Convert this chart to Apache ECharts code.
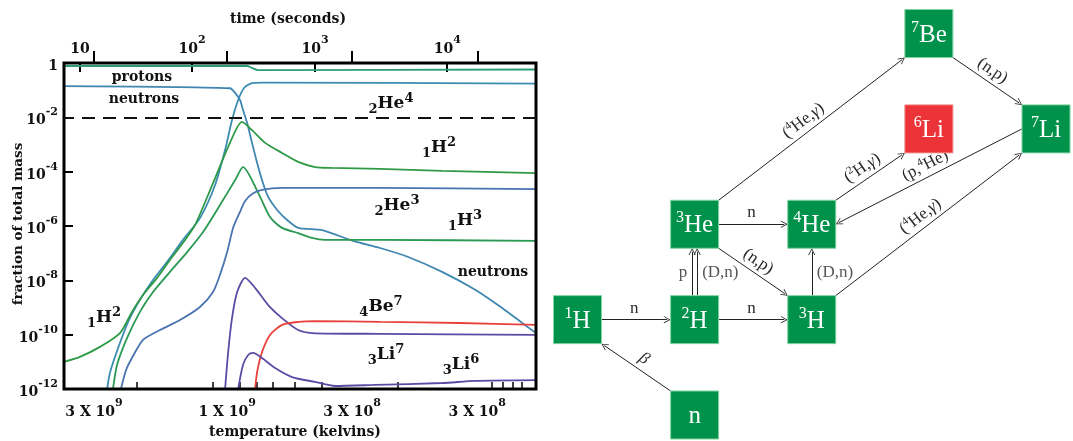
<!DOCTYPE html>
<html><head><meta charset="utf-8">
<script src="https://cdn.jsdelivr.net/npm/echarts@6/dist/echarts.min.js"></script>
<style>html,body{margin:0;padding:0;background:#fff}#c{width:1073px;height:441px}</style>
</head><body><div id="c"></div>
<script>
// ---------- Left panel data: x = log10(temperature / K), y = log10(fraction of total mass)
const protons  = [[9.61,-0.11],[8.896,-0.11],[8.877,-0.18],[8.853,-0.26],[7.77,-0.24]];
const neutrons = [[9.61,-0.85],[8.963,-0.93],[8.943,-1.10],[8.924,-1.36],[8.912,-1.73],[8.896,-2.21],[8.877,-2.94],[8.857,-3.68],[8.838,-4.31],[8.814,-4.93],[8.779,-5.41],[8.74,-5.78],[8.697,-6.07],[8.604,-6.15],[8.483,-6.55],[8.378,-6.81],[8.268,-7.14],[8.136,-7.69],[8.007,-8.35],[7.902,-9.02],[7.824,-9.57],[7.77,-9.94]];
const he4 = [[9.442,-12.0],[9.43,-11.37],[9.399,-10.49],[9.36,-9.53],[9.314,-8.72],[9.263,-7.99],[9.208,-7.32],[9.146,-6.51],[9.08,-5.71],[9.021,-4.49],[8.982,-3.2],[8.955,-2.1],[8.931,-1.36],[8.908,-0.92],[8.877,-0.74],[8.838,-0.72],[7.77,-0.76]];
const h2 = [[9.61,-11.0],[9.548,-10.82],[9.47,-10.45],[9.392,-9.94],[9.345,-9.16],[9.302,-8.54],[9.247,-7.91],[9.197,-7.25],[9.146,-6.62],[9.099,-5.96],[9.029,-4.42],[8.963,-2.94],[8.916,-2.17],[8.877,-2.47],[8.826,-2.94],[8.76,-3.31],[8.697,-3.64],[8.631,-3.83],[8.565,-3.86],[8.378,-3.90],[8.136,-3.97],[7.77,-4.05]];
const h3 = [[9.419,-12.0],[9.403,-11.11],[9.364,-10.12],[9.314,-9.16],[9.263,-8.43],[9.197,-7.69],[9.13,-6.96],[9.068,-6.22],[9.002,-5.23],[8.943,-4.31],[8.912,-3.83],[8.853,-4.78],[8.807,-5.67],[8.76,-6.07],[8.697,-6.26],[8.643,-6.44],[8.592,-6.51],[8.378,-6.51],[7.77,-6.55]];
const he3 = [[9.388,-12.0],[9.368,-11.3],[9.345,-10.86],[9.302,-10.19],[9.236,-9.83],[9.158,-9.46],[9.08,-8.98],[9.029,-8.43],[9.002,-7.8],[8.974,-6.96],[8.951,-6.07],[8.924,-5.48],[8.904,-5.08],[8.877,-4.82],[8.838,-4.67],[8.76,-4.6],[8.378,-4.6],[7.77,-4.64]];
const li7 = [[8.982,-12.0],[8.97,-10.64],[8.955,-9.39],[8.935,-8.43],[8.904,-7.91],[8.865,-8.28],[8.814,-8.91],[8.76,-9.39],[8.697,-9.83],[8.643,-9.94],[8.378,-9.97],[7.77,-10.01]];
const be7 = [[8.865,-12.0],[8.857,-11.37],[8.838,-10.64],[8.807,-10.01],[8.76,-9.64],[8.697,-9.53],[8.631,-9.5],[8.378,-9.53],[8.066,-9.57],[7.77,-9.64]];
const li6 = [[8.931,-12.0],[8.912,-11.11],[8.892,-10.75],[8.873,-10.67],[8.838,-10.86],[8.787,-11.23],[8.721,-11.56],[8.631,-11.74],[8.553,-11.89],[8.397,-11.85],[8.136,-11.78],[8.007,-11.7],[7.77,-11.67]];
const refLevel = -2;

// ticks
const tempTickVals = [9.493, 8.974, 8.487, 7.999];
const tempTickLabels = [['3 X 10','9'],['1 X 10','9'],['3 X 10','8'],['3 X 10','8']];
const tempMinorTicks = [9.325, 9.029, 8.924, 8.860, 8.795, 8.709, 8.604, 8.307, 7.941, 7.898, 7.859, 7.824];
const timeTickVals = [9.548, 9.111, 8.631, 8.116];
const timeTickLabels = [['10',''],['10','2'],['10','3'],['10','4']];
const fracTickVals = [0,-2,-4,-6,-8,-10,-12];

// ---------- Right panel data: reaction network
const nuclides  = ['n','1H','2H','3H','3He','4He','6Li','7Be','7Li'];
const massNum   = ['', '1','2','3','3','4','6','7','7'];
const element   = ['n','H','H','H','He','He','Li','Be','Li'];
const nuclideCol = [1,0,1,2,1,2,3,3,4];
const nuclideRow = [-1,0,0,0,1,1,2,3,2];
const reactions = [
  ['n','1H','β'],
  ['1H','2H','n'],
  ['2H','3H','n'],
  ['2H','3He','p'],
  ['2H','3He','(D,n)'],
  ['3He','4He','n'],
  ['3He','3H','(n,p)'],
  ['3H','4He','(D,n)'],
  ['3He','7Be','(^4He,γ)'],
  ['4He','6Li','(^2H,γ)'],
  ['7Li','4He','(p,^4He)'],
  ['3H','7Li','(^4He,γ)'],
  ['7Be','7Li','(n,p)']
];

// ---------- rendering
const chart = echarts.init(document.getElementById('c'), null, {renderer:'canvas'});
const SERIF_B = 'DejaVu Serif';
const TIMES = 'Liberation Serif';
function nearest(vals, v){let bi=0,bd=Infinity;vals.forEach((t,i)=>{const d=Math.abs(t-v);if(d<bd){bd=d;bi=i;}});return bi;}
const axRich = {
  b:{fontFamily:SERIF_B,fontWeight:'bold',fontSize:14,color:'#111',lineHeight:21,verticalAlign:'bottom'},
  s:{fontFamily:SERIF_B,fontWeight:'bold',fontSize:11,color:'#111',lineHeight:12,verticalAlign:'top'}
};
function supLabel(base, sup){return '{b|'+base+'}'+(sup?'{s|'+sup+'}':'');}

function curve(name, data, color){
  return {type:'line', name, xAxisIndex:0, yAxisIndex:0, data, symbol:'none', showSymbol:false,
    smooth:0.25, lineStyle:{color, width:1.8}, clip:true, z:3, silent:true};
}

function richify(str){
  let out='', buf='';
  const flush=()=>{if(buf){out+='{t|'+buf+'}';buf='';}};
  for(let k=0;k<str.length;k++){
    const ch=str[k];
    if(ch==='^'){flush();out+='{s|'+str[k+1]+'}';k++;}
    else if(ch==='γ'||ch==='β'){flush();out+='{i|'+ch+'}';}
    else buf+=ch;
  }
  flush();return out;
}
const edgeRich = {
  t:{fontFamily:TIMES,fontSize:17,color:'#2a2a2a',lineHeight:19,verticalAlign:'bottom'},
  i:{fontFamily:TIMES,fontSize:17,fontStyle:'italic',color:'#2a2a2a',lineHeight:19,verticalAlign:'bottom'},
  s:{fontFamily:TIMES,fontSize:11,color:'#2a2a2a',lineHeight:11,verticalAlign:'top'}
};

// right grid geometry
const RG = {left:577.5, top:33.5, width:468.5, height:381.5};
const colPx = RG.width/4, rowPx = RG.height/4;
const HALF = 24, ARROW = 7;
const CHEVRON = 'path://M0,0L5,9L4,9.6L0,2.2L-4,9.6L-5,9Z';
const GREEN = '#00924a', RED = '#ec3338';

const pairCount = {}; reactions.forEach(r=>{const k=r[0]+'>'+r[1];pairCount[k]=(pairCount[k]||0)+1;});
const pairSeen = {};
const edgeData = [], vLabelData = [];
reactions.forEach(r=>{
  const a=nuclides.indexOf(r[0]), b=nuclides.indexOf(r[1]);
  const c1=nuclideCol[a], r1=nuclideRow[a], c2=nuclideCol[b], r2=nuclideRow[b];
  const dc=c2-c1, dr=r2-r1, sx=Math.sign(dc), sy=Math.sign(dr);
  const hx=HALF/colPx, hy=HALF/rowPx;
  let p1,p2;
  if(dc!==0 && dr!==0 && Math.abs(dc)===Math.abs(dr)){p1=[c1+sx*hx,r1+sy*hy];p2=[c2-sx*hx,r2-sy*hy];}
  else if(Math.abs(dc)>=Math.abs(dr)){p1=[c1+sx*hx,r1];p2=[c2-sx*hx,r2];}
  else {p1=[c1,r1+sy*hy];p2=[c2,r2-sy*hy];}
  const key=r[0]+'>'+r[1], n=pairCount[key], k=(pairSeen[key]=(pairSeen[key]||0)+1);
  if(n>1){const off=(k-1.5)*5; if(dc===0){p1[0]+=off/colPx;p2[0]+=off/colPx;} else {p1[1]+=off/rowPx;p2[1]+=off/rowPx;}}
  const mid=[(p1[0]+p2[0])/2,(p1[1]+p2[1])/2];
  const px=(p2[0]-p1[0])*colPx, py=(p2[1]-p1[1])*rowPx, L=Math.hypot(px,py);
  p2=[p2[0]-px/L*ARROW/2/colPx, p2[1]-py/L*ARROW/2/rowPx];
  const vertical = dc===0;
  edgeData.push({name:r[2], coords:[p1,p2], label:{show:!vertical}});
  if(vertical){
    vLabelData.push({name:r[2], value:mid, label:{position:(n>1&&k===1)?'left':'right'}});
  }
});

function ann(x,y,sub,base,sup){
  return {type:'text', x, y, silent:true, z:10, style:{
    text:(sub?'{sub|'+sub+'}':'')+'{base|'+base+'}'+(sup?'{sup|'+sup+'}':''),
    align:'center', verticalAlign:'middle',
    rich:{
      sub:{fontFamily:SERIF_B,fontWeight:'bold',fontSize:13,fill:'#111',lineHeight:13,verticalAlign:'bottom'},
      base:{fontFamily:SERIF_B,fontWeight:'bold',fontSize:17,fill:'#111',lineHeight:24,verticalAlign:'middle'},
      sup:{fontFamily:SERIF_B,fontWeight:'bold',fontSize:13,fill:'#111',lineHeight:13,verticalAlign:'top'}
    }}};
}
function plain(x,y,text,size,rot){
  return {type:'text', x, y, rotation:rot||0, silent:true, z:10, style:{text, align:'center', verticalAlign:'middle',
    fontFamily:SERIF_B, fontWeight:'bold', fontSize:size, fill:'#111'}};
}

const option = {
  animation:false,
  backgroundColor:'#fff',
  grid:[
    {left:64, top:63, width:472, height:326, show:true, borderColor:'#000', borderWidth:3, backgroundColor:'transparent', z:5},
    {left:RG.left, top:RG.top, width:RG.width, height:RG.height, show:false}
  ],
  xAxis:[
    {gridIndex:0, type:'value', position:'bottom', min:7.77, max:9.61, inverse:true,
      axisLine:{show:false}, splitLine:{show:false},
      axisTick:{show:true, inside:true, length:12, customValues:tempTickVals, lineStyle:{color:'#000',width:2}},
      axisLabel:{customValues:tempTickVals, margin:9, formatter:v=>{const i=nearest(tempTickVals,v);return supLabel(tempTickLabels[i][0],tempTickLabels[i][1]);}, rich:axRich}},
    {gridIndex:0, type:'value', position:'top', min:7.77, max:9.61, inverse:true,
      axisLine:{show:false}, splitLine:{show:false},
      axisTick:{show:true, inside:true, length:9, customValues:timeTickVals, lineStyle:{color:'#000',width:2}},
      axisLabel:{customValues:timeTickVals, margin:7, formatter:v=>{const i=nearest(timeTickVals,v);return supLabel(timeTickLabels[i][0],timeTickLabels[i][1]);}, rich:axRich}},
    {gridIndex:0, type:'value', position:'bottom', min:7.77, max:9.61, inverse:true,
      axisLine:{show:false}, splitLine:{show:false}, axisLabel:{show:false},
      axisTick:{show:true, inside:true, length:7, customValues:tempMinorTicks, lineStyle:{color:'#000',width:1.5}}},
    {gridIndex:1, type:'value', min:0, max:4, show:false}
  ],
  yAxis:[
    {gridIndex:0, type:'value', min:-12, max:0,
      axisLine:{show:false}, splitLine:{show:false},
      axisTick:{show:true, inside:true, length:9, customValues:fracTickVals, lineStyle:{color:'#000',width:2}},
      axisLabel:{customValues:fracTickVals, margin:6, formatter:v=>{const e=Math.round(v);return e===0?'{b|1}':supLabel('10',String(e));}, rich:axRich}},
    {gridIndex:1, type:'value', min:-1, max:3, show:false}
  ],
  graphic:[
    plain(288,19,'time (seconds)',14),
    plain(295,432,'temperature (kelvins)',14),
    plain(18,224,'fraction of total mass',13.5,Math.PI/2),
    plain(142,77,'protons',14),
    plain(144,99,'neutrons',14),
    plain(493,272,'neutrons',14),
    ann(391,104,'2','He','4'),
    ann(439,148,'1','H','2'),
    ann(397,206,'2','He','3'),
    ann(465,221,'1','H','3'),
    ann(381,307,'4','Be','7'),
    ann(104,318,'1','H','2'),
    ann(386,355,'3','Li','7'),
    ann(461,365,'3','Li','6')
  ],
  series:[
    Object.assign(curve('protons',protons,'#2a9c78'),{markLine:{silent:true,symbol:'none',label:{show:false},
      lineStyle:{type:[13,8],color:'#111',width:2},data:[{yAxis:refLevel}]}}),
    curve('neutrons',neutrons,'#3f86b0'),
    curve('He4',he4,'#3a8cb0'),
    curve('H2',h2,'#2f9a46'),
    curve('H3',h3,'#2a9a52'),
    curve('He3',he3,'#4a74b2'),
    curve('Li7',li7,'#5e4aa4'),
    curve('Be7',be7,'#e8403a'),
    curve('Li6',li6,'#5e4aa4'),
    {type:'lines', coordinateSystem:'cartesian2d', xAxisIndex:3, yAxisIndex:1, silent:true, z:2,
      symbol:['none',CHEVRON], symbolSize:[0,ARROW],
      itemStyle:{color:'#222'},
      lineStyle:{color:'#222', width:1, opacity:1, curveness:0},
      label:{show:true, position:'insideMiddleTop', distance:3, formatter:p=>richify(p.name), rich:edgeRich},
      data:edgeData},
    {type:'scatter', xAxisIndex:3, yAxisIndex:1, symbolSize:0, silent:true, z:3,
      label:{show:true, distance:5, formatter:p=>richify(p.name), rich:edgeRich},
      data:vLabelData},
    {type:'scatter', xAxisIndex:3, yAxisIndex:1, symbol:'rect', symbolSize:48, silent:true, z:4,
      itemStyle:{borderColor:'#7fd3a0', borderWidth:1, opacity:1},
      label:{show:true, position:'inside', formatter:p=>(massNum[p.dataIndex]?'{s|'+massNum[p.dataIndex]+'}':'')+'{b|'+element[p.dataIndex]+'}',
        rich:{b:{fontFamily:TIMES,fontSize:25,color:'#fff',lineHeight:28,verticalAlign:'bottom'},
              s:{fontFamily:TIMES,fontSize:16,color:'#fff',lineHeight:16,verticalAlign:'top'}}},
      data:nuclides.map((n,i)=>({name:n, value:[nuclideCol[i],nuclideRow[i]],
        itemStyle:{color:n==='6Li'?RED:GREEN, borderColor:n==='6Li'?'#f08a8a':'#7fd3a0'}}))}
  ]
};
chart.setOption(option);
</script></body></html>
